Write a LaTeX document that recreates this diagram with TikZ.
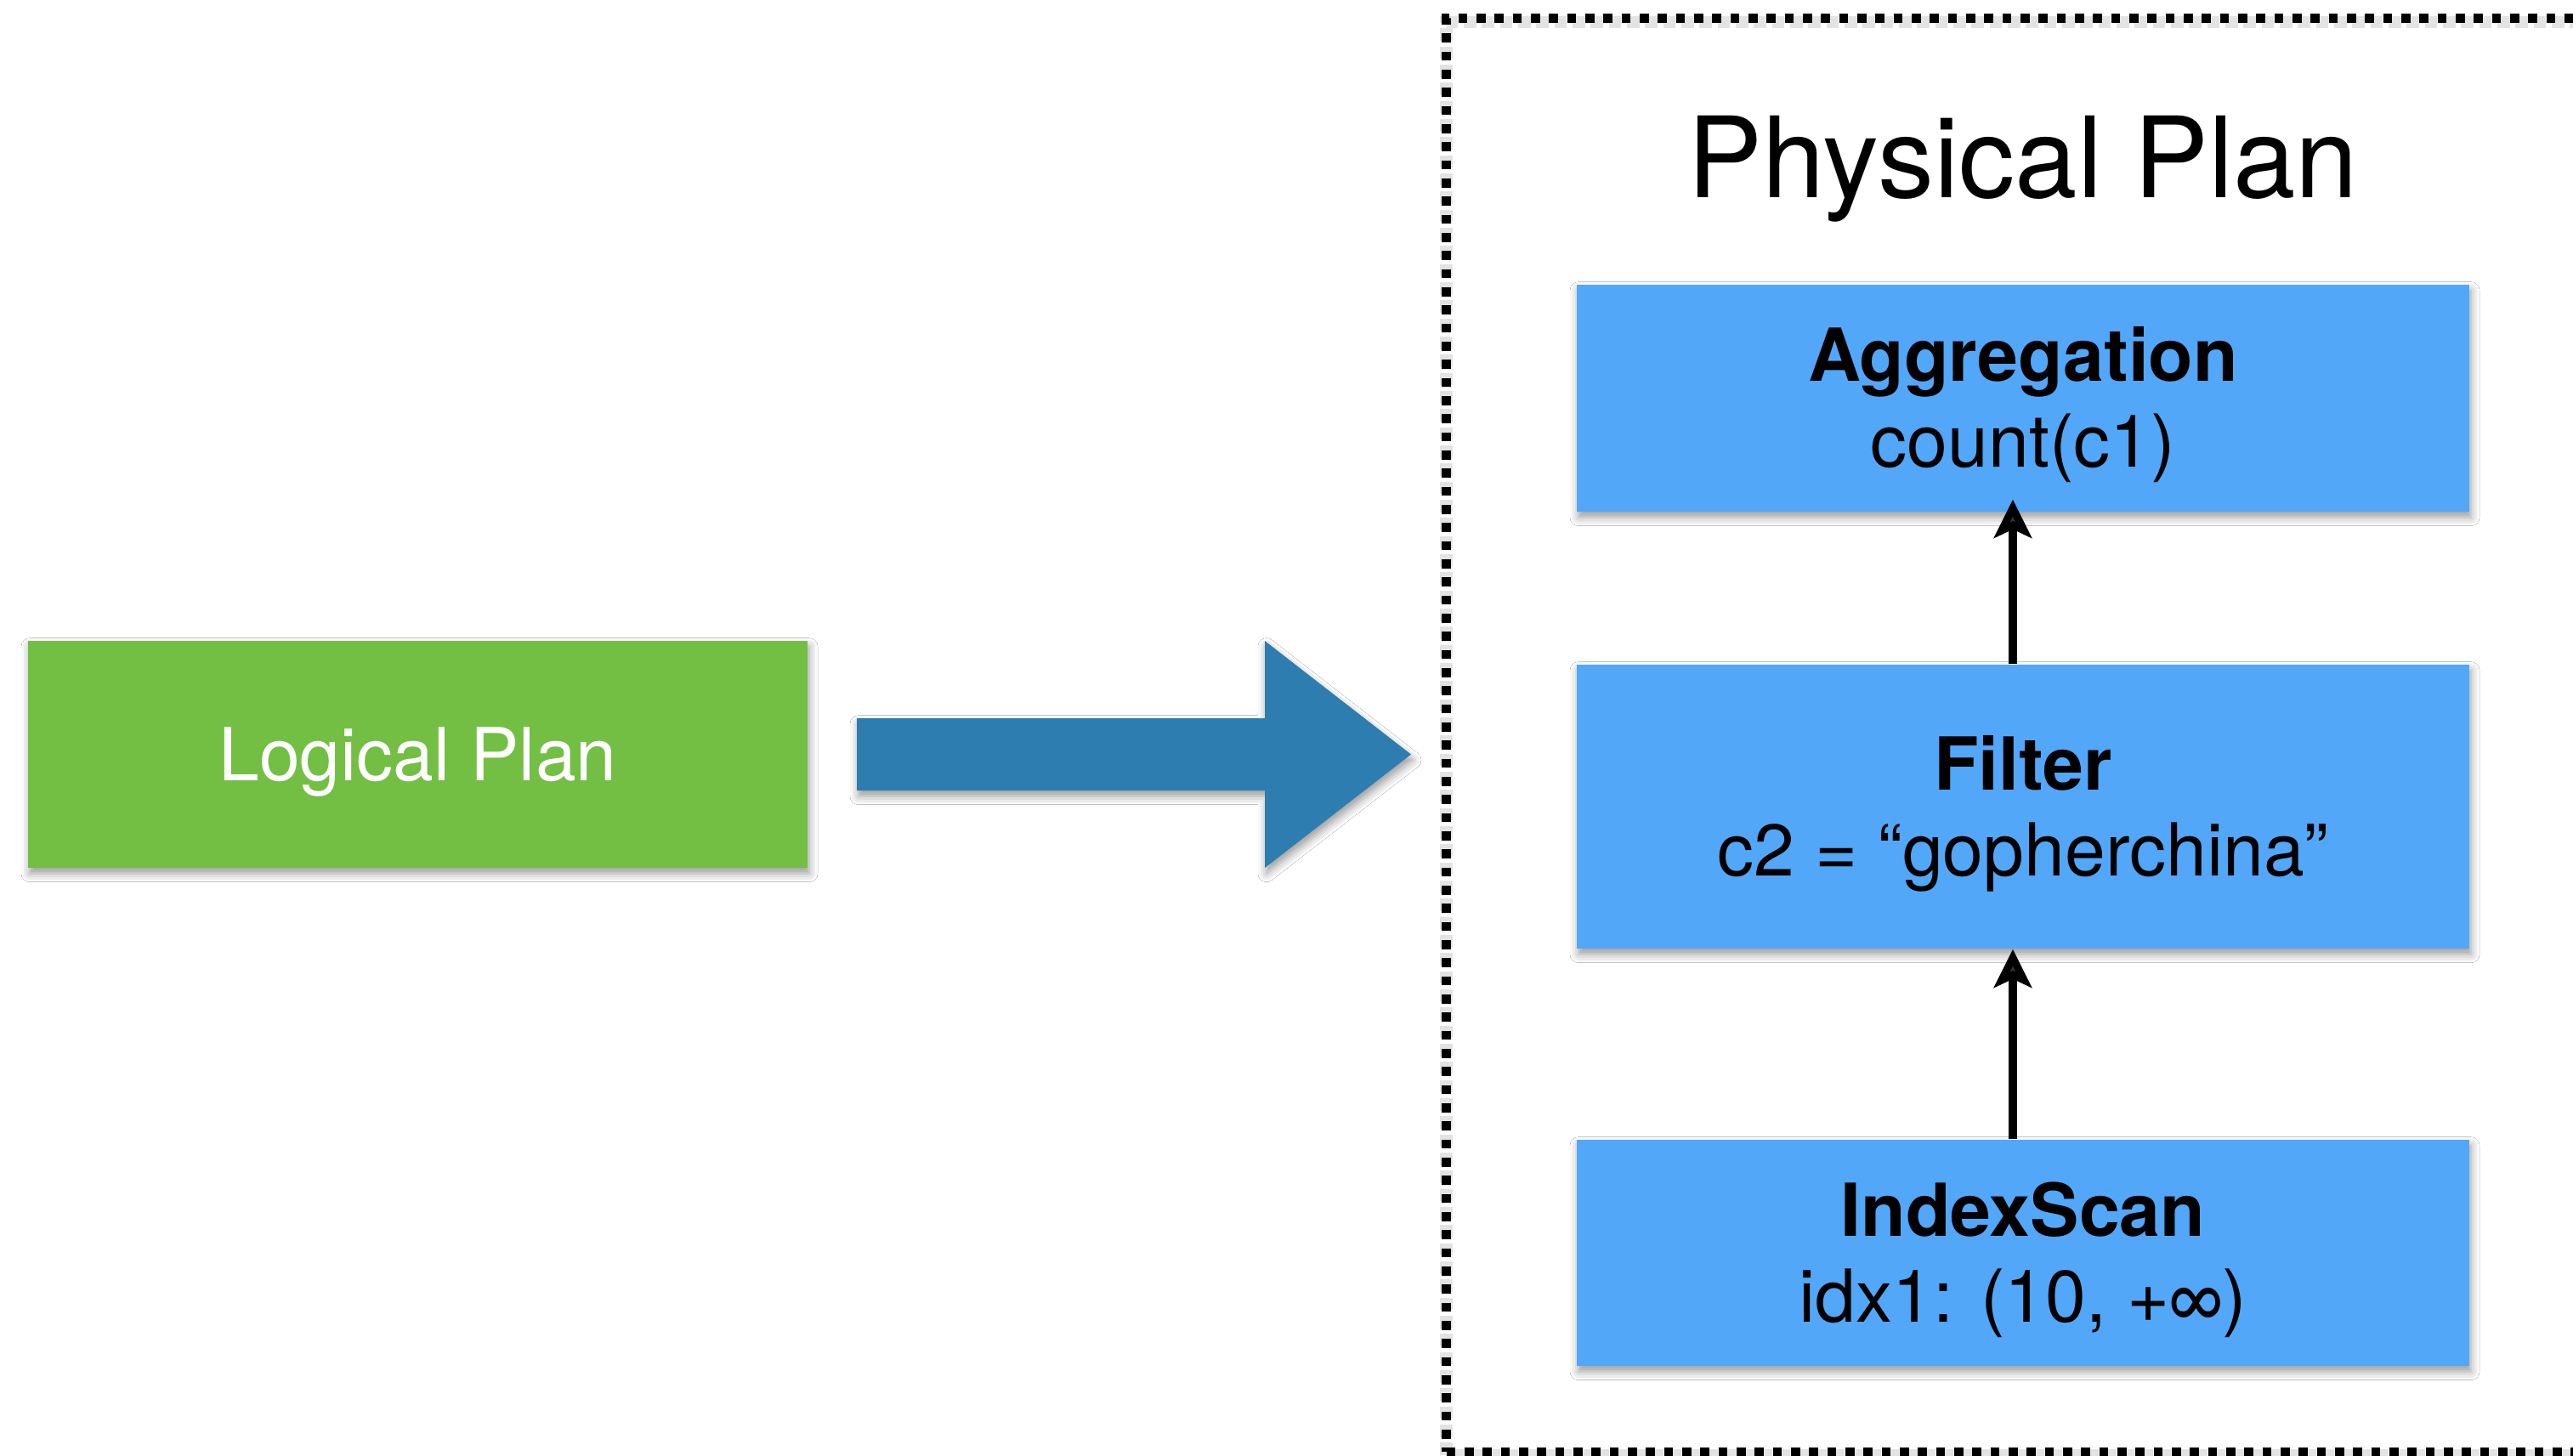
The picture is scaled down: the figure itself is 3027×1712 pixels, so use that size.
\documentclass[tikz,border=0pt]{standalone}
\usepackage{fontspec}
\setmainfont{TeX Gyre Heros}
\usetikzlibrary{arrows.meta,shadows.blur}
\definecolor{planblue}{RGB}{82,167,249}
\definecolor{plangreen}{RGB}{114,191,68}
\definecolor{bigblue}{RGB}{46,125,176}
\begin{document}
\begin{tikzpicture}[x=0.3pt,y=-0.3pt,
  softshadow/.style={blur shadow={shadow xshift=0.6pt, shadow yshift=-2pt, shadow blur radius=3pt, shadow opacity=40}},
  opbox/.style={rectangle, fill=planblue, inner sep=0pt, minimum width=315pt,
    font=\fontsize{25.8pt}{30.3pt}\selectfont, text height=18.5pt, text depth=30.3pt, softshadow},
  logicbox/.style={rectangle, fill=plangreen, inner sep=0pt, minimum width=275.1pt, minimum height=80.1pt,
    font=\fontsize{25.8pt}{30.3pt}\selectfont, text=white, text height=18.5pt, text depth=0pt, softshadow},
  dotframe/.style={draw=black, line width=3.2pt, dash pattern=on 3.2pt off 3.2pt},
  dotshadow/.style={draw=black!60, opacity=0.18, line width=4.4pt, dash pattern=on 4.4pt off 2pt, dash phase=0.6pt},
  flow/.style={line width=3pt, -{Stealth[length=13.5pt, width=13.2pt, inset=3pt]}}
]
\useasboundingbox (0,0) rectangle (3027,1712);
\clip (0,0) rectangle (3027,1712);
\fill[white] (0,0) rectangle (3027,1712);

% dotted frame round the physical plan
\draw[dotshadow, yshift=-1.3pt] (3100,21.5) -- (1701.5,21.5) -- (1701.5,1708) -- (3100,1708);
\node[dotframe, rectangle, inner sep=0pt, minimum width=419.55pt, minimum height=505.95pt] (frame) at (2400.75,864.75) {};

% title
\node[anchor=base, font=\fontsize{39.6pt}{46pt}\selectfont, inner sep=0pt] (title) at (2380,232) {Physical Plan};

% operator boxes
\node[opbox, minimum height=80.1pt] (agg) at (2380,468.5)
  {\begin{tabular}[t]{@{}c@{}}\textbf{Aggregation}\\count(c1)\end{tabular}};
\node[opbox, minimum height=100.2pt] (filter) at (2380,949)
  {\begin{tabular}[t]{@{}c@{}}\textbf{Filter}\\c2 = “gopherchina”\end{tabular}};
\node[opbox, minimum height=79.8pt] (scan) at (2380,1474)
  {\begin{tabular}[t]{@{}c@{}}\textbf{IndexScan}\\idx1: (10, +∞)\end{tabular}};

% logical plan
\node[logicbox] (logic) at (491.5,887.5) {Logical Plan};

% big transformation arrow
\fill[bigblue, softshadow] (1008,845) -- (1488,845) -- (1488,754) -- (1660,887.5)
  -- (1488,1021) -- (1488,930) -- (1008,930) -- cycle;

% data flow arrows
\draw[flow] ([xshift=-3.6pt]filter.north) -- ([xshift=-3.6pt,yshift=4.5pt]agg.south);
\draw[flow] ([xshift=-3.6pt]scan.north) -- ([xshift=-3.6pt]filter.south);
\end{tikzpicture}
\end{document}
